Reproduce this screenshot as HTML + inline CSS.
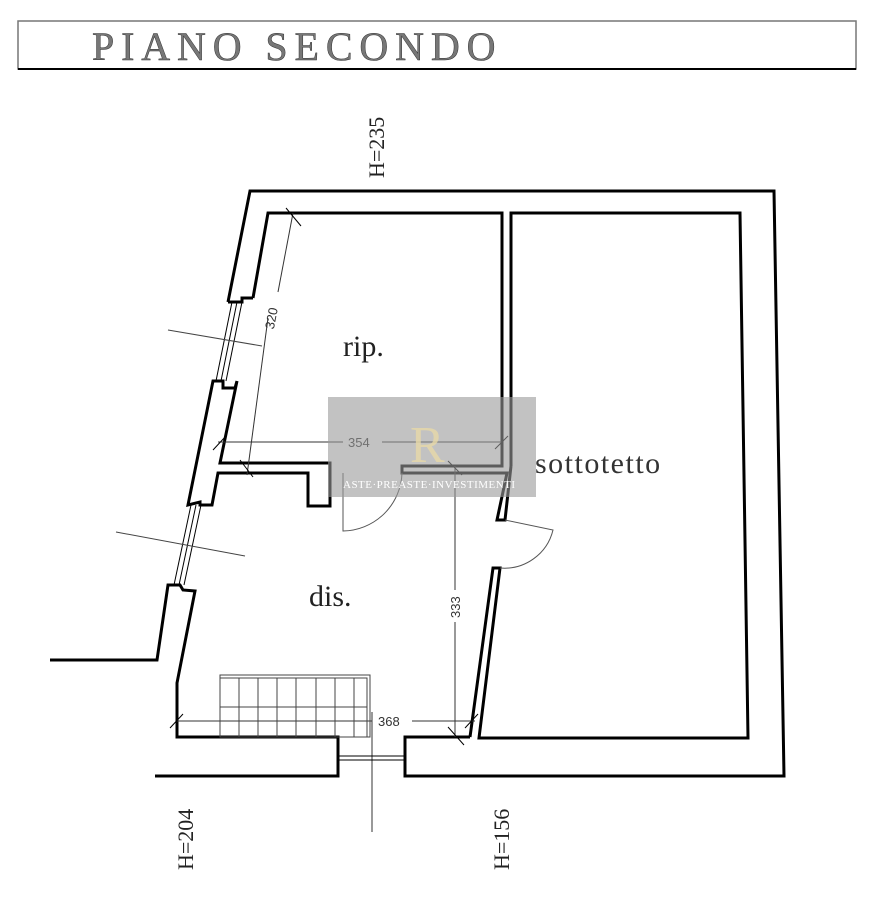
<!DOCTYPE html>
<html><head><meta charset="utf-8"><style>
html,body{margin:0;padding:0;background:#fff;width:874px;height:900px;overflow:hidden}
svg{display:block}
.s{font-family:"Liberation Serif",serif}
.n{font-family:"Liberation Sans",sans-serif;font-size:13px;fill:#333}
</style></head><body>
<svg width="874" height="900" viewBox="0 0 874 900" xmlns="http://www.w3.org/2000/svg">
<rect x="18" y="21" width="838" height="48" fill="none" stroke="#777" stroke-width="1.5"/>
<line x1="18" y1="69" x2="856" y2="69" stroke="#000" stroke-width="2"/>
<text class="s" x="92" y="60" font-size="40" fill="#777" stroke="#333" stroke-width="0.5" letter-spacing="4.5" textLength="408" lengthAdjust="spacing">PIANO  SECONDO</text>

<g fill="none" stroke="#000" stroke-width="3" stroke-linejoin="miter">
<polyline points="253,298 268,213 502,213 502,466 402,466 402,473 497,473"/>
<polyline points="228,302 250,191 774,191 784,776 405,776 405,737 470,737"/>
<polyline points="228,302 242,302 242,298 253,298"/>
<polyline points="237,381 220,463 330,463 330,506 308,506 308,473 218,473 212,505 200,505 200,502 188,505 213,381 223,381 223,388 235,388 237,381"/>
<polyline points="50,660 157,660 168,585 180,585 183,590 195,591 177,683 177,737 338,737 338,776 155,776"/>
<polyline points="511,466 511,213 740,213 748,738 479,738 500,568 493,568 470,737"/>
<polyline points="497,473 507,473 497,520 505,520 511,466"/>
</g>
<g stroke="#000" stroke-width="1" fill="none">
<line x1="232" y1="302" x2="216" y2="381"/><line x1="237" y1="302" x2="221" y2="381"/><line x1="242" y1="302" x2="226" y2="381"/>
<line x1="191" y1="505" x2="174" y2="585"/><line x1="196" y1="505" x2="179" y2="585"/><line x1="201" y1="505" x2="184" y2="585"/>
<line x1="168" y1="330" x2="262" y2="346" stroke="#444"/>
<line x1="116" y1="532" x2="245" y2="556" stroke="#444"/>
<line x1="293" y1="213" x2="278" y2="292" stroke="#333"/>
<line x1="268" y1="318" x2="247" y2="475" stroke="#333"/>
<line x1="286" y1="208" x2="301" y2="226"/><line x1="240" y1="460" x2="253" y2="477"/>
<line x1="218" y1="442" x2="343" y2="442" stroke="#333"/><line x1="382" y1="442" x2="502" y2="442" stroke="#333"/>
<line x1="213" y1="450" x2="226" y2="436"/><line x1="495" y1="449" x2="508" y2="436"/>
<line x1="455" y1="466" x2="455" y2="590" stroke="#333"/><line x1="455" y1="622" x2="455" y2="737" stroke="#333"/>
<line x1="448" y1="461" x2="462" y2="475"/><line x1="448" y1="727" x2="464" y2="745"/>
<line x1="177" y1="721" x2="372" y2="721" stroke="#333"/><line x1="412" y1="721" x2="475" y2="721" stroke="#333"/>
<line x1="170" y1="728" x2="183" y2="714"/><line x1="465" y1="728" x2="478" y2="714"/>
<line x1="372" y1="712" x2="372" y2="832" stroke="#333"/>
<rect x="220" y="675" width="150" height="62" stroke="#444"/>
<rect x="220" y="678" width="147" height="59" stroke="#444"/>
<g stroke="#444"><line x1="239" y1="678" x2="239" y2="737"/><line x1="258" y1="678" x2="258" y2="737"/><line x1="277" y1="678" x2="277" y2="737"/><line x1="296" y1="678" x2="296" y2="737"/><line x1="316" y1="678" x2="316" y2="737"/><line x1="335" y1="678" x2="335" y2="737"/><line x1="354" y1="678" x2="354" y2="737"/><line x1="220" y1="707" x2="367" y2="707"/></g>
<line x1="338" y1="756" x2="405" y2="756"/><line x1="338" y1="760" x2="405" y2="760"/>
<path d="M343,473 L343,531 A60,60 0 0 0 402,473" stroke="#555"/>
<path d="M505,520 L553,530 A50,50 0 0 1 500,568" stroke="#555"/>
</g>
<text class="n" x="348" y="447">354</text>
<text class="n" x="378" y="726">368</text>
<text class="n" transform="translate(460,618) rotate(-90)">333</text>
<text class="n" transform="translate(276,318) rotate(-79) translate(-12,0)">320</text>
<text class="s" x="343" y="356" font-size="30" fill="#222">rip.</text>
<text class="s" x="309" y="606" font-size="30" fill="#222">dis.</text>
<text class="s" x="535" y="473" font-size="30" fill="#333" letter-spacing="1.5">sottotetto</text>
<text class="s" transform="translate(384,178) rotate(-90)" font-size="22" fill="#222">H=235</text>
<text class="s" transform="translate(193,870) rotate(-90)" font-size="22" fill="#222">H=204</text>
<text class="s" transform="translate(509,870) rotate(-90)" font-size="22" fill="#222">H=156</text>
<rect x="328" y="397" width="208" height="100" fill="#999" opacity="0.6"/>
<text class="s" x="410" y="462" font-size="52" fill="#e8d9a8" opacity="0.8">R</text>
<text class="s" x="343" y="488" font-size="11" fill="#fff" letter-spacing="0.5">ASTE·PREASTE·INVESTIMENTI</text>
</svg>
</body></html>
